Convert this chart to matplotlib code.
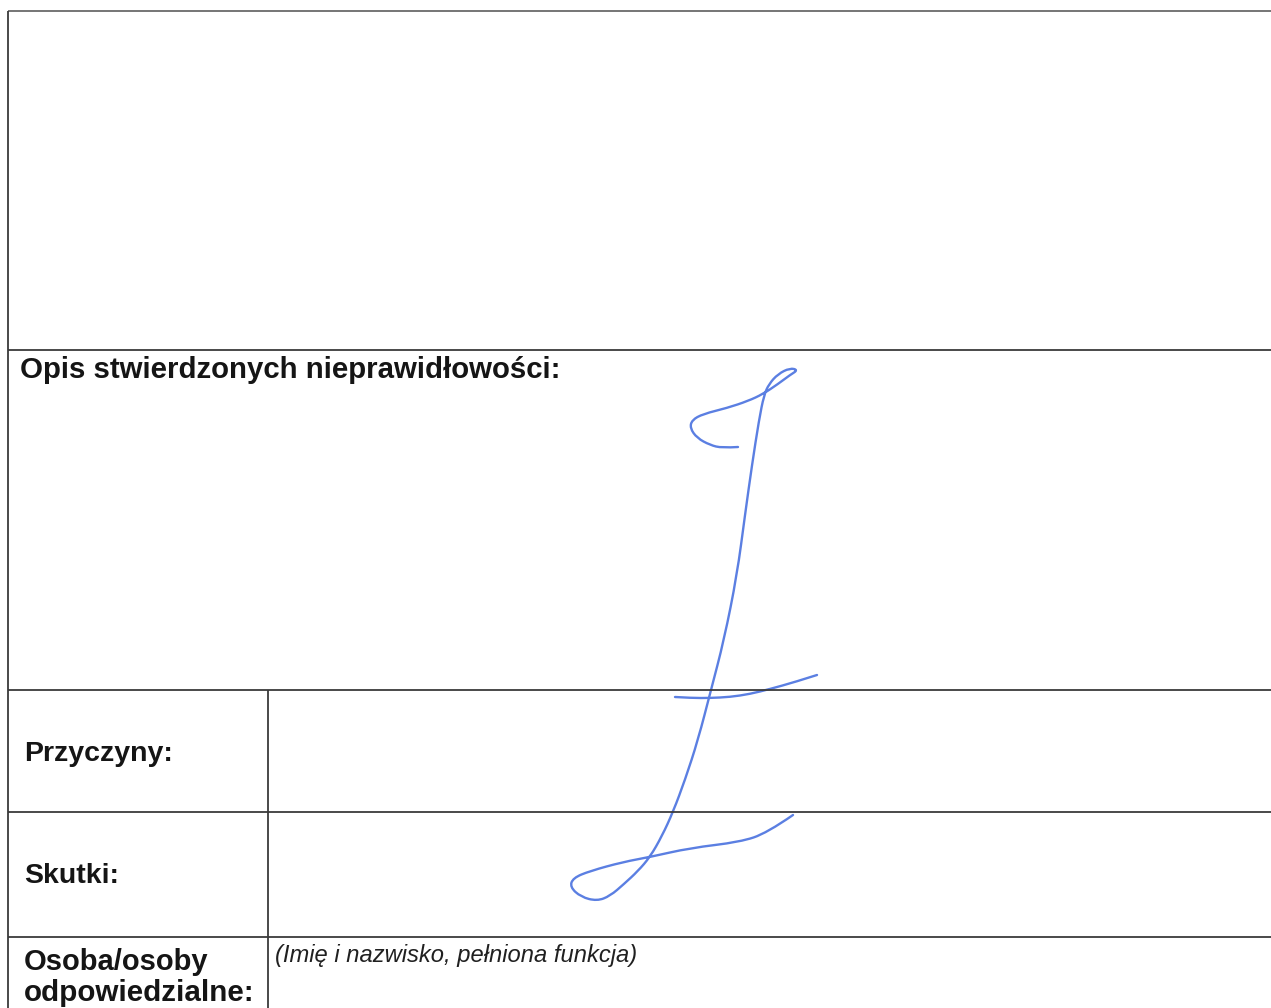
import matplotlib
matplotlib.use("Agg")
import matplotlib.pyplot as plt
from matplotlib.path import Path
from matplotlib.patches import PathPatch

W, H = 1271, 1008

# ---- form grid (pixel coordinates of the page) ----
h_lines_y = [11, 350, 690, 812, 937]
h_lines_x0 = [8, 8, 8, 8, 8]
v_lines_x = [8, 268]
v_lines_y0 = [11, 690]

# ---- labels ----
bold_labels = ["Opis stwierdzonych nieprawidłowości:", "Przyczyny:", "Skutki:",
               "Osoba/osoby", "odpowiedzialne:"]
bold_x = [20, 24, 24, 24, 24]
bold_y = [378, 761, 883, 970, 1001]
bold_size = [21.2, 20.5, 20.5, 21.0, 21.3]
hint_text = "(Imię i nazwisko, pełniona funkcja)"
hint_xy = (275, 962)

# ---- handwritten stroke (control points) ----
sig_main_x = [738, 722, 710, 697, 690, 692, 703, 727, 748, 763, 778, 790, 798,
              790, 778, 769, 764, 759, 752, 745, 737, 724, 711, 698, 685, 673,
              662, 650, 638, 624, 610, 597, 581, 570, 573, 590, 623, 650, 690,
              740, 767, 793]
sig_main_y = [447, 448, 445, 438, 428, 420, 414, 408, 401, 394, 384, 375, 370,
              368, 374, 384, 395, 420, 465, 515, 575, 640, 690, 740, 780, 812,
              836, 857, 871, 884, 896, 901, 897, 887, 878, 871, 862, 857, 848,
              842, 833, 815]
sig_cross_x = [675, 692, 710, 730, 750, 770, 795, 817]
sig_cross_y = [697, 698, 698, 697, 694, 689, 682, 675]

fig = plt.figure(figsize=(W / 100, H / 100), dpi=100)
ax = fig.add_axes([0, 0, 1, 1])
ax.set_xlim(0, W)
ax.set_ylim(H, 0)
ax.axis("off")

line_col = "#3a3a3a"
for y, x0 in zip(h_lines_y, h_lines_x0):
    ax.plot([x0, W], [y, y], color=line_col if y != 11 else "#6a6a6a",
            lw=1.3, solid_capstyle="butt")
for x, y0 in zip(v_lines_x, v_lines_y0):
    ax.plot([x, x], [y0, H], color=line_col, lw=1.3, solid_capstyle="butt")

for t, x, y, s in zip(bold_labels, bold_x, bold_y, bold_size):
    ax.text(x, y, t, fontsize=s, fontweight="bold", family="Liberation Sans",
            color="#151515", va="baseline", ha="left")
ax.text(hint_xy[0], hint_xy[1], hint_text, fontsize=17.1, style="italic",
        family="Liberation Sans", color="#202020", va="baseline", ha="left")


def smooth_path(xs, ys):
    pts = list(zip(xs, ys))
    verts = [pts[0]]
    codes = [Path.MOVETO]
    for i in range(1, len(pts) - 1):
        mid = ((pts[i][0] + pts[i + 1][0]) / 2, (pts[i][1] + pts[i + 1][1]) / 2)
        if i == len(pts) - 2:
            mid = pts[-1]
        verts += [pts[i], mid]
        codes += [Path.CURVE3, Path.CURVE3]
    return Path(verts, codes)


sig_col = "#5b7fe2"
for xs, ys in [(sig_main_x, sig_main_y), (sig_cross_x, sig_cross_y)]:
    ax.add_patch(PathPatch(smooth_path(xs, ys), facecolor="none", edgecolor=sig_col,
                           lw=1.7, capstyle="round", joinstyle="round"))

fig.savefig("out.png", dpi=100, facecolor="white")
